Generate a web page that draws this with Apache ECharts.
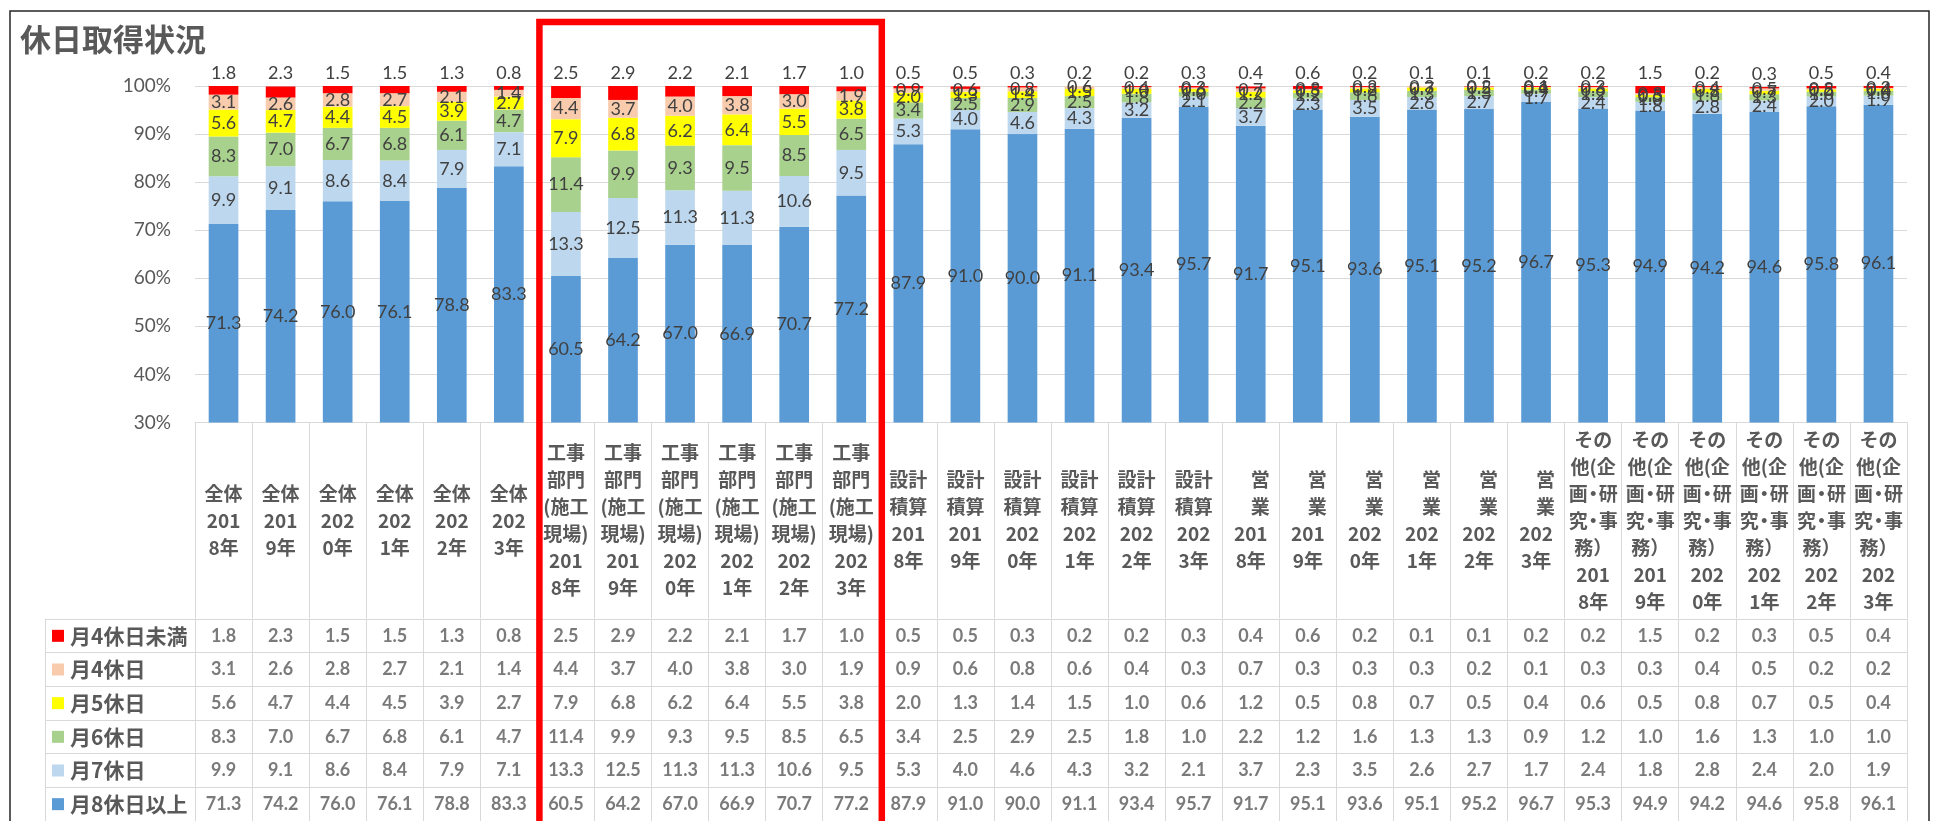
<!DOCTYPE html>
<html><head><meta charset="utf-8">
<script src="https://cdn.jsdelivr.net/npm/echarts@6/dist/echarts.min.js"></script>
<style>html,body{margin:0;padding:0;background:#fff}#c{width:1937px;height:821px}</style>
</head><body><div id="c"></div>
<script>
// ---- data ----
const groupLabels = ['全体', '工事\n部門\n(施工\n現場)', '設計\n積算', '\u3000営\n\u3000業', 'その\n他(企\n画・研\n究・事\n務）'];
const years = ['2018', '2019', '2020', '2021', '2022', '2023'];
const categories = [];
groupLabels.forEach(g => years.forEach(y => categories.push(g + '\n' + y.slice(0, 3) + '\n' + y.slice(3) + '年')));

const seriesNames = ['月4休日未満', '月4休日', '月5休日', '月6休日', '月7休日', '月8休日以上'];
const under4 = [1.8, 2.3, 1.5, 1.5, 1.3, 0.8, 2.5, 2.9, 2.2, 2.1, 1.7, 1.0, 0.5, 0.5, 0.3, 0.2, 0.2, 0.3, 0.4, 0.6, 0.2, 0.1, 0.1, 0.2, 0.2, 1.5, 0.2, 0.3, 0.5, 0.4];
const days4 = [3.1, 2.6, 2.8, 2.7, 2.1, 1.4, 4.4, 3.7, 4.0, 3.8, 3.0, 1.9, 0.9, 0.6, 0.8, 0.6, 0.4, 0.3, 0.7, 0.3, 0.3, 0.3, 0.2, 0.1, 0.3, 0.3, 0.4, 0.5, 0.2, 0.2];
const days5 = [5.6, 4.7, 4.4, 4.5, 3.9, 2.7, 7.9, 6.8, 6.2, 6.4, 5.5, 3.8, 2.0, 1.3, 1.4, 1.5, 1.0, 0.6, 1.2, 0.5, 0.8, 0.7, 0.5, 0.4, 0.6, 0.5, 0.8, 0.7, 0.5, 0.4];
const days6 = [8.3, 7.0, 6.7, 6.8, 6.1, 4.7, 11.4, 9.9, 9.3, 9.5, 8.5, 6.5, 3.4, 2.5, 2.9, 2.5, 1.8, 1.0, 2.2, 1.2, 1.6, 1.3, 1.3, 0.9, 1.2, 1.0, 1.6, 1.3, 1.0, 1.0];
const days7 = [9.9, 9.1, 8.6, 8.4, 7.9, 7.1, 13.3, 12.5, 11.3, 11.3, 10.6, 9.5, 5.3, 4.0, 4.6, 4.3, 3.2, 2.1, 3.7, 2.3, 3.5, 2.6, 2.7, 1.7, 2.4, 1.8, 2.8, 2.4, 2.0, 1.9];
const days8plus = [71.3, 74.2, 76.0, 76.1, 78.8, 83.3, 60.5, 64.2, 67.0, 66.9, 70.7, 77.2, 87.9, 91.0, 90.0, 91.1, 93.4, 95.7, 91.7, 95.1, 93.6, 95.1, 95.2, 96.7, 95.3, 94.9, 94.2, 94.6, 95.8, 96.1];
const yMin = 30, yMax = 100, yStep = 10;
const highlightFirst = 6, highlightLast = 11;

// ---- styling ----
const rows = [under4, days4, days5, days6, days7, days8plus];
const colors = ['#FF0000', '#F8CBAD', '#FFFF00', '#A9D18E', '#BDD7EE', '#5B9BD5'];
const gridLine = '#D9D9D9';
const numFont = 'Lato, "Noto Sans", sans-serif';
const jpFont = '"Noto Sans CJK JP", sans-serif';

const chart = echarts.init(document.getElementById('c'), null, {renderer: 'canvas'});

const barSeries = [];
for (let k = 5; k >= 0; k--) {
  barSeries.push({
    name: seriesNames[k], type: 'bar', stack: 'total', xAxisIndex: 0, yAxisIndex: 0,
    data: rows[k], barCategoryGap: '48%',
    itemStyle: {color: colors[k]},
    label: {
      show: true, position: k === 0 ? 'top' : 'inside', distance: 4,
      formatter: p => p.value.toFixed(1),
      fontFamily: numFont, fontSize: 18, color: '#404040'
    },
    emphasis: {disabled: true}
  });
}
const tableSeries = rows.map((vals, r) => ({
  type: 'scatter', xAxisIndex: 1, yAxisIndex: 1, silent: true,
  symbolSize: 1, itemStyle: {color: 'rgba(0,0,0,0)'},
  data: vals.map((v, i) => [i, r, v]),
  label: {
    show: true, position: 'inside', formatter: p => p.value[2].toFixed(1),
    fontFamily: numFont, fontWeight: 'bold', fontSize: 18, color: '#595959'
  }
}));

const rich = {t: {fontFamily: jpFont, fontWeight: 'bold', fontSize: 21, color: '#595959', padding: [0, 0, 0, 6]}};
colors.forEach((c, i) => { rich['s' + i] = {width: 12, height: 12, backgroundColor: c, fontSize: 1}; });

const catStyle = {fontFamily: jpFont, fontWeight: 'bold', fontSize: 19, color: '#595959', lineHeight: 27};

chart.setOption({
  animation: false,
  title: {text: '休日取得状況', left: 15, top: 19,
    textStyle: {fontFamily: jpFont, fontWeight: 'bold', fontSize: 31, color: '#595959'}},
  grid: [
    {left: 195, right: 30, top: 86, height: 336.5},
    {left: 195, right: 30, top: 619, height: 210}
  ],
  xAxis: [
    {type: 'category', gridIndex: 0, data: categories,
      axisLine: {lineStyle: {color: gridLine}},
      axisTick: {show: true, interval: 0, length: 196, lineStyle: {color: gridLine}},
      axisLabel: Object.assign({interval: 0, margin: 98, verticalAlign: 'middle',
        formatter: v => v.replace(/・/g, '{d|・}'),
        rich: {d: Object.assign({width: 11, align: 'center'}, catStyle)}}, catStyle)},
    {type: 'category', gridIndex: 1, data: categories,
      axisLine: {show: false}, axisTick: {show: false}, axisLabel: {show: false},
      splitLine: {show: true, interval: 0, lineStyle: {color: gridLine}}}
  ],
  yAxis: [
    {type: 'value', gridIndex: 0, min: yMin, max: yMax, interval: yStep,
      axisLine: {show: false}, axisTick: {show: false},
      splitLine: {lineStyle: {color: gridLine}},
      axisLabel: {formatter: '{value}%', margin: 24, fontFamily: numFont, fontSize: 19, color: '#595959'}},
    {type: 'category', gridIndex: 1, data: seriesNames, inverse: true,
      axisLine: {show: true, lineStyle: {color: gridLine}},
      axisTick: {show: true, interval: 0, length: 150, lineStyle: {color: gridLine}},
      splitLine: {show: true, interval: 0, lineStyle: {color: gridLine}},
      axisLabel: {interval: 0, align: 'left', margin: 143,
        formatter: (v, i) => '{s' + i + '| }{t|' + v + '}', rich: rich}},
    {type: 'category', gridIndex: 1, data: seriesNames, inverse: true, position: 'left', offset: 150,
      axisLine: {show: true, lineStyle: {color: gridLine}}, axisTick: {show: false}, axisLabel: {show: false}}
  ],
  series: barSeries.concat(tableSeries)
});

// highlight frame & outer border, positioned from the category axis scale
const c0 = chart.convertToPixel({xAxisIndex: 0}, highlightFirst);
const c1 = chart.convertToPixel({xAxisIndex: 0}, highlightLast);
const step = chart.convertToPixel({xAxisIndex: 0}, highlightFirst + 1) - c0;
const fx0 = c0 - step / 2 + 2, fx1 = c1 + step / 2 + 2;
chart.setOption({
  graphic: [
    {type: 'rect', z: 100, silent: true, shape: {x: 10, y: 11, width: 1919, height: 900},
      style: {fill: 'none', stroke: '#262626', lineWidth: 1.5}},
    {type: 'rect', z: 101, silent: true, shape: {x: fx0, y: 22, width: fx1 - fx0, height: 900},
      style: {fill: 'none', stroke: '#FF0000', lineWidth: 6.5}}
  ]
});
</script>
</body></html>
